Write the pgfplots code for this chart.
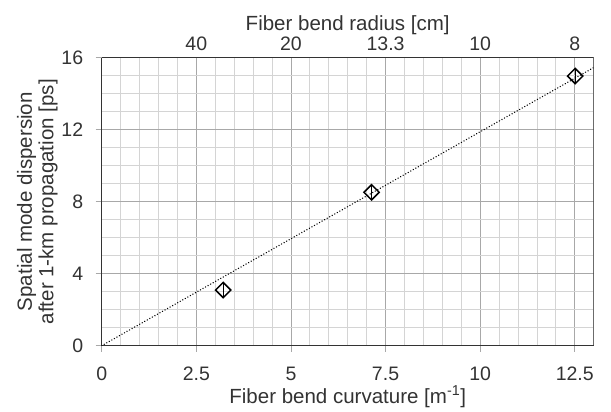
\documentclass[border=0pt]{standalone}
\usepackage{pgfplots}
\pgfplotsset{compat=1.18}
\usepackage{fontspec}
\setmainfont{Liberation Sans}
\definecolor{txt}{HTML}{333333}
\definecolor{minorg}{HTML}{D4D4D4}
\definecolor{majorg}{HTML}{A8A8A8}
\newcommand{\ft}{\fontsize{19.5}{22}\selectfont}
\newcommand{\fl}{\fontsize{20.5}{21.5}\selectfont}
\begin{document}
\begin{tikzpicture}
\pgfplotsset{every axis/.append style={
  scale only axis, width=492pt, height=288pt,
  xmin=0, xmax=13,
  /pgf/number format/assume math mode=true,
  tick label style={text=txt, font=\ft},
  label style={text=txt, font=\fl},
}}
\begin{axis}[
  ymin=0, ymax=16,
  axis x line*=bottom, axis y line*=left,
  xtick={0,2.5,5,7.5,10,12.5},
  xticklabels={0,2.5,5,7.5,10,12.5},
  ytick={0,4,8,12,16},
  minor xtick={0.5,1,...,13},
  minor ytick={1,2,...,16},
  grid=both,
  major grid style={majorg, line width=0.8pt},
  minor grid style={minorg, line width=0.8pt},
  axis line style={color=txt, line width=1pt},
  tick style={color=majorg, line width=0.8pt},
  tick align=outside, major tick length=6pt, minor tick length=0pt,
  xlabel={Fiber bend curvature [m\textsuperscript{-1}]},
  ylabel={Spatial mode dispersion\\after 1-km propagation [ps]},
  ylabel style={align=center, yshift=-3pt},
  xlabel style={yshift=2pt},
  xticklabel style={yshift=-12pt},
  yticklabel style={xshift=-9pt},
]
\addplot[black, line width=1.5pt, dash pattern=on 0.01pt off 2.9pt, line cap=round] coordinates {(0,0) (13,15.45)};
\addplot[black, only marks, mark=square, mark size=5.4pt, mark options={rotate=45, line width=1.5pt, solid},
  error bars/.cd, y dir=both, y explicit, error mark=-, error mark options={mark size=1.8pt, line width=1pt},
  error bar style={line width=1pt, solid}]
  coordinates {(3.21,3.09) +- (0,0.33) (7.13,8.52) +- (0,0.33) (12.51,14.98) +- (0,0.33)};
\draw[color=txt, line width=1pt] (rel axis cs:0,1) -- (rel axis cs:1,1) -- (rel axis cs:1,0);
\end{axis}
\begin{axis}[
  ymin=0, ymax=16,
  axis x line*=top, hide y axis,
  xtick={2.5,5,7.5,10,12.5},
  xticklabels={40,20,13.3,10,8},
  major tick length=0pt,
  axis line style={draw=none},
  xlabel={Fiber bend radius [cm]},
  xlabel style={yshift=-4pt},
  xticklabel style={yshift=3pt},
]
\addplot[draw=none] coordinates {(0,0)};
\end{axis}
\path[use as bounding box] (-101.7pt,-66.3pt) rectangle (509.3pt,345.7pt);
\end{tikzpicture}
\end{document}
